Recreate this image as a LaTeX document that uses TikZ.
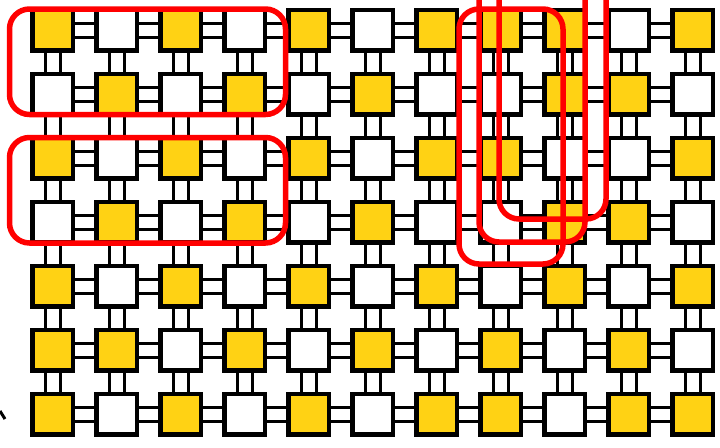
\documentclass[tikz,border=0pt]{standalone}
\definecolor{gold}{RGB}{255,210,20}
\begin{document}
\begin{tikzpicture}[x=1pt,y=-1pt,
  cell/.style={draw=black, line width=4.5pt, minimum size=40.5pt, inner sep=0pt, outer sep=0pt, fill=white},
  ycell/.style={cell, fill=gold},
  link/.style={line width=3pt, draw=black},
  redbox/.style={draw=red, line width=5.5pt, rounded corners=20pt}]
\useasboundingbox (0,0) rectangle (720,447);
\clip (0,0) rectangle (720,447);
\fill[white] (0,0) rectangle (720,447);
% squares
\foreach \r/\l in {0/{1,0,1,0,1,0,1,1,1,0,1},
                   1/{0,1,0,1,0,1,0,0,1,1,0},
                   2/{1,0,1,0,1,0,1,1,0,0,1},
                   3/{0,1,0,1,0,1,0,0,1,1,0},
                   4/{1,0,1,0,1,0,1,0,1,0,1},
                   5/{1,1,0,1,0,1,0,1,0,1,0},
                   6/{1,0,1,0,1,0,1,1,0,1,1}}{
  \foreach \v [count=\c from 0] in \l {
    \ifnum\v=1
      \node[ycell] (n-\r-\c) at ({52.5+64*\c},{30+64*\r}) {};
    \else
      \node[cell] (n-\r-\c) at ({52.5+64*\c},{30+64*\r}) {};
    \fi
  }
}
% horizontal links
\foreach \r in {0,...,6}{
  \foreach \c in {0,...,9}{
    \pgfmathtruncatemacro\nx{\c+1}
    \draw[link] ([yshift=7pt]n-\r-\c.east) -- ([yshift=7pt]n-\r-\nx.west);
    \draw[link] ([yshift=-7pt]n-\r-\c.east) -- ([yshift=-7pt]n-\r-\nx.west);
  }
}
% vertical links
\foreach \r in {0,...,5}{
  \foreach \c in {0,...,10}{
    \pgfmathtruncatemacro\ny{\r+1}
    \draw[link] ([xshift=-7.5pt]n-\r-\c.south) -- ([xshift=-7.5pt]n-\ny-\c.north);
    \draw[link] ([xshift=7.5pt]n-\r-\c.south) -- ([xshift=7.5pt]n-\ny-\c.north);
  }
}
% red groupings
\draw[redbox] (9.5,9) rectangle (285.5,114.5);
\draw[redbox] (9.5,137.5) rectangle (285.5,243);
\draw[redbox] (459,9) rectangle (563,264);
\draw[redbox] (479,-40) rectangle (585,242);
\draw[redbox] (499,-40) rectangle (606,219);
% small mark at lower left
\draw[line width=3pt] (0,411) -- (5,419);
\end{tikzpicture}
\end{document}
